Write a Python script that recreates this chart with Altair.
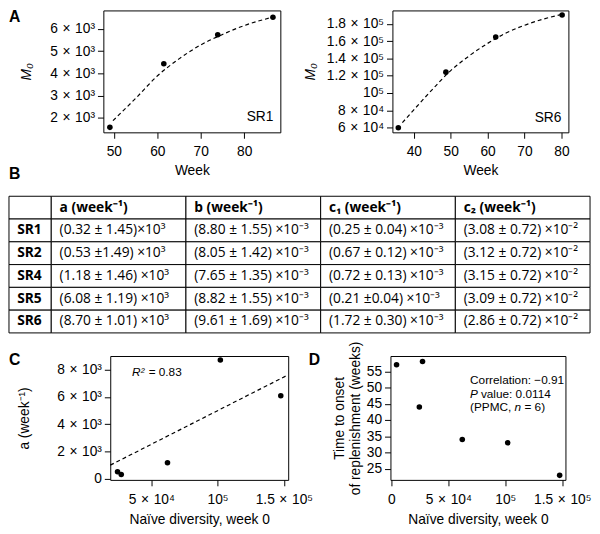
import altair as alt
import pandas as pd

FONT = "Liberation Sans"
TFONT = "Open Sans"
S = "\u2004"  # small space around the multiplication sign, as in the original labels

# ---------------- Panel A (left): SR1 ----------------
sr1_week = [49.1, 61.5, 73.9, 86.6]
sr1_m0 = [1570, 4430, 5740, 6520]
sr1_fit_week = [49.8, 55, 60, 65, 70, 75, 80, 86]
sr1_fit_m0 = [1870, 2870, 3880, 4650, 5280, 5750, 6150, 6500]
sr1_xticks = [50, 60, 70, 80]
sr1_yticks = [2000, 3000, 4000, 5000, 6000]
sr1_ylabels = [f"2{S}×{S}10³", f"3{S}×{S}10³", f"4{S}×{S}10³", f"5{S}×{S}10³", f"6{S}×{S}10³"]

# ---------------- Panel A (right): SR6 ----------------
sr6_week = [35.8, 48.7, 62.2, 80.2]
sr6_m0 = [59700, 124200, 164800, 190400]
sr6_fit_week = [36.9, 40, 45, 50, 55, 60, 65, 70, 75, 80]
sr6_fit_m0 = [65600, 80500, 104000, 126000, 143000, 157500, 169500, 178500, 185500, 191000]
sr6_xticks = [40, 50, 60, 70, 80]
sr6_yticks = [60000, 80000, 100000, 120000, 140000, 160000, 180000]
sr6_ylabels = [f"6{S}×{S}10⁴", f"8{S}×{S}10⁴", "10⁵", f"1.2{S}×{S}10⁵", f"1.4{S}×{S}10⁵",
               f"1.6{S}×{S}10⁵", f"1.8{S}×{S}10⁵"]

# ---------------- Panel B: table ----------------
table_rows = ["SR1", "SR2", "SR4", "SR5", "SR6"]
table_cols = ["a", "b", "c1", "c2"]
table_headers = ["a (week⁻¹)", "b (week⁻¹)", "c₁ (week⁻¹)", "c₂ (week⁻¹)"]
col_a = ["(0.32 ± 1.45)×10³", "(0.53 ±1.49) ×10³", "(1.18 ± 1.46) ×10³",
         "(6.08 ± 1.19) ×10³", "(8.70 ± 1.01) ×10³"]
col_b = ["(8.80 ± 1.55) ×10⁻³", "(8.05 ± 1.42) ×10⁻³", "(7.65 ± 1.35) ×10⁻³",
         "(8.82 ± 1.55) ×10⁻³", "(9.61 ± 1.69) ×10⁻³"]
col_c1 = ["(0.25 ± 0.04) ×10⁻³", "(0.67 ± 0.12) ×10⁻³", "(0.72 ± 0.13) ×10⁻³",
          "(0.21 ±0.04) ×10⁻³", "(1.72 ± 0.30) ×10⁻³"]
col_c2 = ["(3.08 ± 0.72) ×10⁻²", "(3.12 ± 0.72) ×10⁻²", "(3.15 ± 0.72) ×10⁻²",
          "(3.09 ± 0.72) ×10⁻²", "(2.86 ± 0.72) ×10⁻²"]

# ---------------- Panel C ----------------
c_diversity = [27300, 24500, 62200, 147700, 102100]   # SR1, SR2, SR4, SR5, SR6
c_a = [320, 530, 1180, 6080, 8700]
c_fit_x = [19000, 153300]
c_fit_y = [1009, 7615]
c_xticks = [50000, 100000, 150000]
c_xlabels = [f"5{S}×{S}10⁴", "10⁵", f"1.5{S}×{S}10⁵"]
c_yticks = [0, 2000, 4000, 6000, 8000]
c_ylabels = ["0", f"2{S}×{S}10³", f"4{S}×{S}10³", f"6{S}×{S}10³", f"8{S}×{S}10³"]
c_note = ["R²", "= 0.83"]

# ---------------- Panel D ----------------
d_diversity = [4500, 24500, 27300, 62200, 102100, 147700]
d_onset = [57, 44, 58, 34, 33, 23]
d_xticks = [0, 50000, 100000, 150000]
d_xlabels = ["0", f"5{S}×{S}10⁴", "10⁵", f"1.5{S}×{S}10⁵"]
d_yticks = [25, 30, 35, 40, 45, 50, 55]
d_note = ["Correlation: −0.91", "P", "value: 0.0114", "(PPMC,", "n", "= 6)"]

letters = ["A", "B", "C", "D"]


def lab_expr(values, labels):
    parts = [f"datum.value == {v} ? '{l}'" for v, l in zip(values, labels)]
    return " : ".join(parts) + " : ''"


def make_axis(values, labels=None, title="", orient="x", tpos=None, **kw):
    a = dict(values=values, grid=False, domain=False, ticks=True, tickSize=6, tickWidth=1,
             tickColor="black", labelFont=FONT, labelFontSize=14, labelColor="black",
             labelOverlap=False, labelFlush=False, labelBound=False,
             titleFont=FONT, titleFontSize=14, titleFontWeight="normal", titleColor="black")
    if labels is not None:
        a["labelExpr"] = lab_expr(values, labels)
    if orient == "x":
        a.update(labelPadding=7, titleY=tpos, titleBaseline="middle")
    else:
        a.update(labelPadding=3, titleX=tpos, titleBaseline="middle", titleAngle=270,
                 titleAlign="center")
    a.update(kw)
    return alt.Axis(title=title, **a)


def letter(ch, xv, yv):
    return alt.Chart(pd.DataFrame({"t": [ch]})).mark_text(
        align="left", baseline="top", font=FONT, fontSize=16, fontWeight="bold", color="black"
    ).encode(text="t:N", x=alt.value(xv), y=alt.value(yv))


def panel(px, py, lx, ly, xdom, ydom, xaxis, yaxis, w, h, notes, letter_layers):
    X = alt.X("x:Q", scale=alt.Scale(domain=xdom, nice=False, zero=False), axis=xaxis)
    Y = alt.Y("y:Q", scale=alt.Scale(domain=ydom, nice=False, zero=False), axis=yaxis)
    layers = []
    if lx:
        layers.append(alt.Chart(pd.DataFrame({"x": lx, "y": ly})).mark_line(
            color="black", strokeWidth=1.2, strokeDash=[4, 3], interpolate="monotone"
        ).encode(x=X, y=Y))
    layers.append(alt.Chart(pd.DataFrame({"x": px, "y": py})).mark_circle(
        size=32, color="black", opacity=1
    ).encode(x=X, y=Y))
    for (txt, xd, yd, dx, italic, size, align) in notes:
        layers.append(alt.Chart(pd.DataFrame({"x": [xd], "y": [yd], "t": [txt]})).mark_text(
            align=align, baseline="middle", font=FONT, fontSize=size, dx=dx,
            fontStyle="italic" if italic else "normal", color="black"
        ).encode(x=X, y=Y, text="t:N"))
    return alt.layer(*layers, *letter_layers).properties(
        width=w, height=h, view=alt.ViewBackground(stroke="black", strokeWidth=1)
    )


def spacer(w, h):
    return alt.Chart(pd.DataFrame({"s": [0]})).mark_point(opacity=0, size=0).encode(
        x=alt.value(0), y=alt.value(0)
    ).properties(width=w, height=h)


# ---- Panel A charts ----
A1 = panel(
    sr1_week, sr1_m0, sr1_fit_week, sr1_fit_m0, [47.6, 88.3], [1345, 6830],
    make_axis(sr1_xticks, None, "Week", "x", 39),
    make_axis(sr1_yticks, sr1_ylabels, "M₀", "y", -78, titleFontStyle="italic"),
    180, 124,
    [("SR1", 86.7, 2050, 0, False, 14, "right")],
    [letter(letters[0], -96, -1.5), letter(letters[1], -96, 158.5)],
)
A2 = panel(
    sr6_week, sr6_m0, sr6_fit_week, sr6_fit_m0, [34.2, 81.9], [54400, 195700],
    make_axis(sr6_xticks, None, "Week", "x", 39),
    make_axis(sr6_yticks, sr6_ylabels, "M₀", "y", -83, titleFontStyle="italic"),
    179, 124,
    [("SR6", 80.0, 71250, 0, False, 14, "right")],
    [],
)
rowA = alt.hconcat(spacer(96, 124), A1, spacer(114, 124), A2, spacing=0, bounds="flush")

# ---- Panel B table ----
row_order = ["hdr"] + table_rows
cells = []
for key, header, vals in zip(table_cols, table_headers, [col_a, col_b, col_c1, col_c2]):
    cells.append({"row": "hdr", "col": key, "text": header, "kind": "head"})
    for r, v in zip(table_rows, vals):
        cells.append({"row": r, "col": key, "text": v, "kind": "body"})
df_cells = pd.DataFrame(cells)
df_lab = pd.DataFrame({"row": row_order, "col": ["lab"] * len(row_order),
                       "text": [""] + table_rows})

Yt = alt.Y("row:N", scale=alt.Scale(domain=row_order, paddingInner=0, paddingOuter=0), axis=None)
colscale = alt.Scale(domain=table_cols, paddingInner=0, paddingOuter=0)
labscale = alt.Scale(domain=["lab"], paddingInner=0, paddingOuter=0)

tbase = alt.Chart(df_cells)
t_rect = tbase.mark_rect(fill="white", stroke="black", strokeWidth=1).encode(
    x=alt.X("col:N", scale=colscale, axis=None), y=Yt)
t_head = tbase.transform_filter("datum.kind == 'head'").mark_text(
    align="left", baseline="middle", dx=8.5, font=TFONT, fontSize=14, fontWeight="bold",
    color="black").encode(x=alt.X("col:N", bandPosition=0, scale=colscale, axis=None),
                          y=Yt, text="text:N")
t_body = tbase.transform_filter("datum.kind == 'body'").mark_text(
    align="left", baseline="middle", dx=8.5, font=TFONT, fontSize=14,
    color="black").encode(x=alt.X("col:N", bandPosition=0, scale=colscale, axis=None),
                          y=Yt, text="text:N")
table_data = alt.layer(t_rect, t_head, t_body).properties(width=548, height=139)

lbase = alt.Chart(df_lab)
l_rect = lbase.mark_rect(fill="white", stroke="black", strokeWidth=1).encode(
    x=alt.X("col:N", scale=labscale, axis=None), y=Yt)
l_text = lbase.mark_text(
    align="left", baseline="middle", dx=8.3, font=TFONT, fontSize=14, fontWeight="bold",
    color="black").encode(x=alt.X("col:N", bandPosition=0, scale=labscale, axis=None),
                          y=Yt, text="text:N")
table_lab = alt.layer(l_rect, l_text).properties(width=43, height=139)
rowT = alt.hconcat(table_lab, table_data, spacing=0, bounds="flush")

# ---- Panel C ----
C = panel(
    c_diversity, c_a, c_fit_x, c_fit_y, [19000, 153300], [-70, 8990],
    make_axis(c_xticks, c_xlabels, "Naïve diversity, week 0", "x", 40),
    make_axis(c_yticks, c_ylabels, "a (week⁻¹)", "y", -87),
    181, 126,
    [(c_note[0], 35350, 7817, 0, True, 12, "left"),
     (c_note[1], 35350, 7817, 17, False, 12, "left")],
    [letter(letters[2], -103, -4)],
)

# ---- Panel D ----
D = panel(
    d_diversity, d_onset, [], [], [-860, 152800], [21.6, 59.7],
    make_axis(d_xticks, d_xlabels, "Naïve diversity, week 0", "x", 40),
    make_axis(d_yticks, None, ["Time to onset", "of replenishment (weeks)"], "y", -52,
              titleLineHeight=17),
    178, 126,
    [(d_note[0], 69060, 52.2, 0, False, 12, "left"),
     (d_note[1], 69060, 48.0, 0, True, 12, "left"),
     (d_note[2], 69060, 48.0, 11, False, 12, "left"),
     (d_note[3], 69060, 43.9, 0, False, 12, "left"),
     (d_note[4], 69060, 43.9, 45.3, True, 12, "left"),
     (d_note[5], 69060, 43.9, 55.3, False, 12, "left")],
    [letter(letters[3], -83, -4)],
)
rowCD = alt.hconcat(spacer(103, 126), C, spacer(104, 126), D, spacing=0, bounds="flush")

lower = alt.vconcat(rowT, rowCD, spacing=6.5)
chart = alt.vconcat(rowA, lower, spacing=13).properties(
    padding={"top": -4, "left": 0, "right": 0, "bottom": 0}
).configure_view(stroke=None).configure_axis(labelOverlap=False)

chart.save("out.html", embed_options={"renderer": "svg", "actions": False})
